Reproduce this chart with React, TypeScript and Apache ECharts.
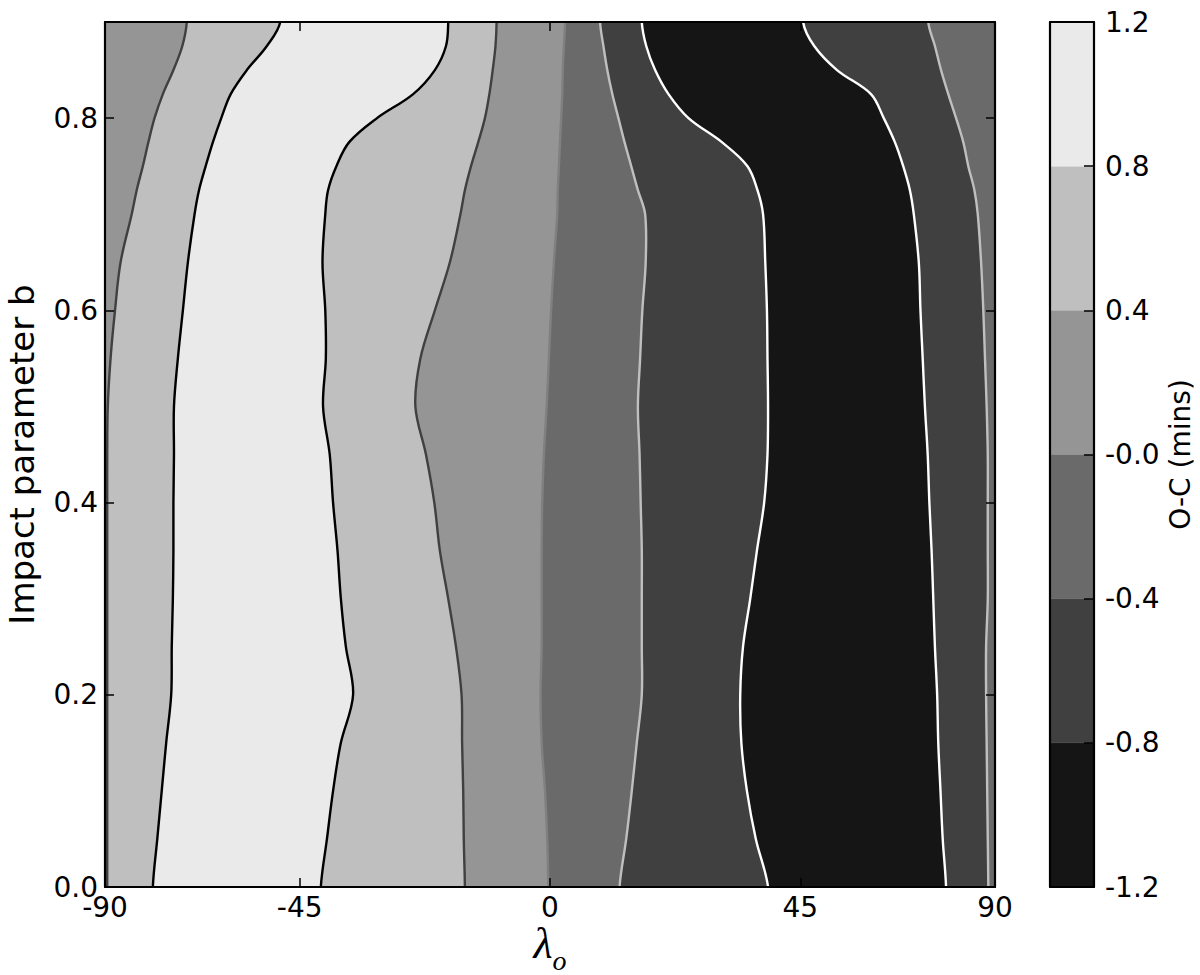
import React, { useEffect, useRef } from "react";
import * as echarts from "echarts";

// ---- data ----
const X_MIN = -80;
const X_MAX = 80;
const B_MIN = 0;
const B_MAX = 0.9;
const X_TICKS = [-80, -45, 0, 45, 80];
const X_TICK_LABELS = ["-90", "-45", "0", "45", "90"];
const Y_TICKS = [0, 0.2, 0.4, 0.6, 0.8];

// contour levels (colorbar)
const LEVELS = [-1.2, -0.8, -0.4, 0, 0.4, 0.8, 1.2];
const LEVEL_LABELS = ["-1.2", "-0.8", "-0.4", "-0.0", "0.4", "0.8", "1.2"];

// impact parameter samples
const B_GRID = [0, 0.05, 0.1, 0.15, 0.2, 0.25, 0.3, 0.35, 0.4, 0.45, 0.5, 0.55, 0.6, 0.65, 0.7, 0.725, 0.75, 0.775, 0.8, 0.825, 0.85, 0.875, 0.9];

// λ position of each contour line at each b of B_GRID (left to right)
const C1_P04 = [-79.6, -79.6, -79.6, -79.6, -79.6, -79.6, -79.6, -79.6, -79.6, -79.6, -79.5, -79.0, -78.2, -77.2, -75.2, -74.3, -73.2, -72.2, -71.1, -69.6, -67.7, -66.1, -65.3];
const C2_P08 = [-71.4, -70.6, -69.8, -69.0, -68.1, -68.0, -67.8, -67.7, -67.7, -67.6, -67.6, -66.9, -66.0, -65.1, -63.9, -63.1, -61.9, -60.6, -59.1, -57.4, -54.5, -50.9, -48.5];
const C3_P08 = [-41.2, -40.1, -39.0, -37.6, -35.4, -36.7, -37.6, -38.2, -39.0, -39.6, -40.8, -40.3, -40.4, -40.9, -40.4, -39.9, -38.4, -36.1, -31.1, -24.6, -20.7, -18.7, -18.3];
const C4_P04 = [-15.3, -15.5, -15.6, -15.8, -15.9, -16.9, -18.3, -19.8, -20.8, -22.3, -24.2, -23.3, -20.7, -18.0, -16.1, -15.3, -14.2, -12.9, -11.7, -10.9, -10.3, -9.8, -9.6];
const C5_Z00 = [-0.3, -0.5, -0.9, -1.5, -1.7, -1.5, -1.5, -1.5, -1.4, -1.1, -0.6, -0.2, 0.2, 0.7, 1.3, 1.4, 1.6, 1.8, 2.0, 2.2, 2.3, 2.5, 2.7];
const C6_M04 = [12.5, 13.7, 14.7, 15.6, 16.5, 16.5, 16.5, 16.5, 16.3, 16.1, 15.8, 16.2, 16.6, 17.2, 17.1, 15.8, 14.6, 13.4, 12.3, 11.2, 10.3, 9.6, 9.0];
const C7_M08 = [39.2, 37.0, 35.4, 34.4, 34.2, 34.7, 36.0, 37.2, 38.5, 39.1, 39.2, 39.1, 39.0, 38.7, 38.3, 37.3, 35.5, 30.9, 24.9, 21.3, 18.9, 17.3, 16.5];
const C8_M08 = [71.2, 70.6, 70.2, 69.8, 69.6, 69.2, 68.9, 68.6, 68.2, 67.9, 67.4, 67.0, 66.6, 66.3, 65.4, 64.7, 63.5, 62.0, 60.0, 57.7, 51.6, 47.5, 45.5];
const C9_M04 = [78.8, 78.7, 78.6, 78.5, 78.4, 78.4, 78.7, 78.7, 78.7, 78.7, 78.5, 78.2, 77.9, 77.5, 76.9, 76.3, 75.2, 74.3, 73.0, 71.6, 70.3, 69.2, 68.0];

const CONTOUR_LEVELS = [0.4, 0.8, 0.8, 0.4, 0.0, -0.4, -0.8, -0.8, -0.4];
const CONTOUR_XS = [C1_P04, C2_P08, C3_P08, C4_P04, C5_Z00, C6_M04, C7_M08, C8_M08, C9_M04];

// colour band (index into LEVELS intervals) of each region, left to right
const REGION_BANDS = [3, 4, 5, 4, 3, 2, 1, 0, 1, 2];

// ---- helpers ----
const SMOOTH = 0.35;
const EXT = 0.05; // curves continue straight past the frame (clipped)
const hexGray = (v: number) => {
  const h = Math.max(0, Math.min(255, Math.round(v))).toString(16).padStart(2, "0");
  return "#" + h + h + h;
};
const LMIN = LEVELS[0];
const LMAX = LEVELS[LEVELS.length - 1];
const BAND_COLORS = LEVELS.slice(0, -1).map((lo, i) => {
  const mid = (lo + LEVELS[i + 1]) / 2;
  return hexGray(255 * (mid - LMIN) / (LMAX - LMIN));
});
const LINE_MIN = Math.min(...CONTOUR_LEVELS);
const LINE_MAX = Math.max(...CONTOUR_LEVELS);
const lineColor = (lv: number) => hexGray(255 * (1 - (lv - LINE_MIN) / (LINE_MAX - LINE_MIN)));

const LEFT_EDGE = B_GRID.map(() => X_MIN);
const RIGHT_EDGE = B_GRID.map(() => X_MAX);
const BOUNDS = [LEFT_EDGE, ...CONTOUR_XS, RIGHT_EDGE];

const curvePoints = (api: any, xs: number[]) => {
  const pts: number[][] = [api.coord([xs[0], B_MIN - EXT])];
  for (let k = 0; k < B_GRID.length; k++) pts.push(api.coord([xs[k], B_GRID[k]]));
  pts.push(api.coord([xs[xs.length - 1], B_MAX + EXT]));
  return pts;
};

const FONT = "DejaVu Sans";
const AX_LINE = { show: true, onZero: false, lineStyle: { color: "#000", width: 2.2 } };
const TICK_STYLE = { color: "#000", width: 1.5 };

export default function App() {
  const ref = useRef<HTMLDivElement>(null);
  useEffect(() => {
    if (!ref.current) return;
    const chart = echarts.init(ref.current, null, { renderer: "svg" });
    const xFmt = (v: number) => {
      const i = X_TICKS.findIndex((t) => Math.abs(t - v) < 1e-6);
      return i >= 0 ? X_TICK_LABELS[i] : "";
    };
    const cFmt = (v: number) => {
      const i = LEVELS.findIndex((t) => Math.abs(t - v) < 1e-6);
      return i >= 0 ? LEVEL_LABELS[i] : "";
    };
    const option: any = {
      animation: false,
      backgroundColor: "#ffffff",
      textStyle: { fontFamily: FONT },
      grid: [
        { left: 105, top: 22, width: 890, height: 865, containLabel: false, outerBoundsMode: "none" },
        { left: 1050, top: 22, width: 44, height: 865, containLabel: false, outerBoundsMode: "none" },
      ],
      xAxis: [
        {
          gridIndex: 0, type: "value", min: X_MIN, max: X_MAX, position: "bottom", z: 10,
          axisLine: AX_LINE,
          axisTick: { show: true, inside: true, length: 9, customValues: X_TICKS, lineStyle: TICK_STYLE },
          axisLabel: { show: true, customValues: X_TICKS, formatter: xFmt, fontSize: 28, color: "#000", fontFamily: FONT, margin: 6 },
          splitLine: { show: false },
          name: "{l|λ}{s|o}",
          nameLocation: "middle",
          nameGap: 42,
          nameMoveOverlap: false,
          nameTextStyle: {
            rich: {
              l: { fontFamily: "Liberation Serif", fontStyle: "italic", fontSize: 44, lineHeight: 44, color: "#000", padding: [0, 0, 16, 0] },
              s: { fontFamily: "Liberation Serif", fontStyle: "italic", fontSize: 28, lineHeight: 28, color: "#000", padding: [18, 0, 0, 0] },
            },
          },
        },
        {
          gridIndex: 0, type: "value", min: X_MIN, max: X_MAX, position: "top", z: 10,
          axisLine: AX_LINE,
          axisTick: { show: true, inside: true, length: 9, customValues: X_TICKS, lineStyle: TICK_STYLE },
          axisLabel: { show: false },
          splitLine: { show: false },
        },
        {
          gridIndex: 1, type: "value", min: 0, max: 1, position: "bottom", z: 10,
          axisLine: AX_LINE, axisTick: { show: false }, axisLabel: { show: false }, splitLine: { show: false },
        },
        {
          gridIndex: 1, type: "value", min: 0, max: 1, position: "top", z: 10,
          axisLine: AX_LINE, axisTick: { show: false }, axisLabel: { show: false }, splitLine: { show: false },
        },
      ],
      yAxis: [
        {
          gridIndex: 0, type: "value", min: B_MIN, max: B_MAX, position: "left", z: 10,
          axisLine: AX_LINE,
          axisTick: { show: true, inside: true, length: 9, customValues: Y_TICKS, lineStyle: TICK_STYLE },
          axisLabel: { show: true, customValues: Y_TICKS, formatter: (v: number) => v.toFixed(1), fontSize: 28, color: "#000", fontFamily: FONT, margin: 7 },
          splitLine: { show: false },
          name: "Impact parameter b",
          nameLocation: "middle",
          nameRotate: 90,
          nameGap: 66,
          nameMoveOverlap: false,
          nameTextStyle: { fontSize: 34, color: "#000", fontFamily: FONT },
        },
        {
          gridIndex: 0, type: "value", min: B_MIN, max: B_MAX, position: "right", z: 10,
          axisLine: AX_LINE,
          axisTick: { show: true, inside: true, length: 9, customValues: Y_TICKS, lineStyle: TICK_STYLE },
          axisLabel: { show: false },
          splitLine: { show: false },
        },
        {
          gridIndex: 1, type: "value", min: LMIN, max: LMAX, position: "right", z: 10,
          axisLine: AX_LINE,
          axisTick: { show: true, inside: true, length: 10, customValues: LEVELS, lineStyle: TICK_STYLE },
          axisLabel: { show: true, customValues: LEVELS, formatter: cFmt, fontSize: 28, color: "#000", fontFamily: FONT, margin: 11 },
          splitLine: { show: false },
          name: "O-C (mins)",
          nameLocation: "middle",
          nameRotate: 90,
          nameGap: 72,
          nameMoveOverlap: false,
          nameTextStyle: { fontSize: 28, color: "#000", fontFamily: FONT },
        },
        {
          gridIndex: 1, type: "value", min: LMIN, max: LMAX, position: "left", z: 10,
          axisLine: AX_LINE, axisTick: { show: false }, axisLabel: { show: false }, splitLine: { show: false },
        },
      ],
      series: [
        {
          type: "custom",
          name: "regions",
          xAxisIndex: 0,
          yAxisIndex: 0,
          z: 1,
          silent: true,
          clip: true,
          encode: { x: 0, y: 1 },
          data: REGION_BANDS.map((band, i) => ({ value: [0, 0, i, band] })),
          renderItem: (params: any, api: any) => {
            const i = api.value(2);
            const band = api.value(3);
            const leftPts = curvePoints(api, BOUNDS[i]);
            const rightPts = curvePoints(api, BOUNDS[i + 1]).reverse();
            return {
              type: "polygon",
              shape: { points: leftPts.concat(rightPts), smooth: SMOOTH },
              style: { fill: BAND_COLORS[band], stroke: BAND_COLORS[band], lineWidth: 0.6 },
            };
          },
        },
        {
          type: "custom",
          name: "contours",
          xAxisIndex: 0,
          yAxisIndex: 0,
          z: 3,
          silent: true,
          clip: true,
          encode: { x: 0, y: 1 },
          data: CONTOUR_LEVELS.map((lv, ci) => ({ value: [0, 0, ci, lv] })),
          renderItem: (params: any, api: any) => {
            const ci = api.value(2);
            const lv = api.value(3);
            return {
              type: "polyline",
              shape: { points: curvePoints(api, CONTOUR_XS[ci]), smooth: SMOOTH },
              style: { fill: null, stroke: lineColor(lv), lineWidth: 2.4 },
            };
          },
        },
        {
          type: "custom",
          name: "colorbar",
          xAxisIndex: 2,
          yAxisIndex: 2,
          z: 1,
          silent: true,
          encode: { x: 0, y: 1 },
          data: BAND_COLORS.map((c, j) => ({ value: [0, LEVELS[j], j] })),
          renderItem: (params: any, api: any) => {
            const j = api.value(2);
            const p0 = api.coord([0, LEVELS[j]]);
            const p1 = api.coord([1, LEVELS[j + 1]]);
            return {
              type: "rect",
              shape: { x: p0[0], y: p1[1], width: p1[0] - p0[0], height: p0[1] - p1[1] },
              style: { fill: BAND_COLORS[j], stroke: BAND_COLORS[j], lineWidth: 0.5 },
            };
          },
        },
      ],
    };
    chart.setOption(option);
    return () => chart.dispose();
  }, []);
  return (
    <div
      ref={ref}
      style={{ position: "absolute", left: 0, top: 0, width: 1200, height: 975, background: "#fff" }}
    />
  );
}
